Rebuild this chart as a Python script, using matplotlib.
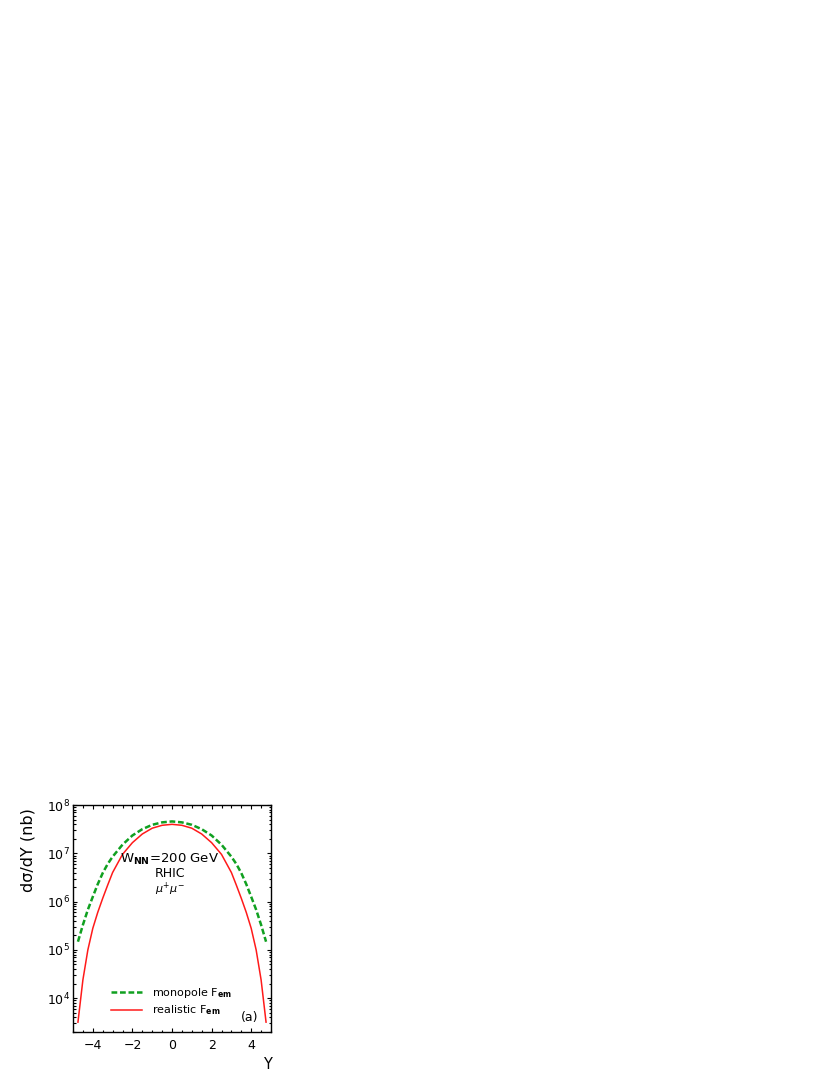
import matplotlib
matplotlib.use('Agg')
import matplotlib.pyplot as plt
from matplotlib.ticker import MultipleLocator, LogLocator, NullFormatter

# Rapidity grid and cross sections (nb)
rapidity = [-4.75, -4.5, -4.25, -4.0, -3.75, -3.5, -3.25, -3.0, -2.5, -2.0, -1.5, -1.0, -0.5,
            0.0, 0.5, 1.0, 1.5, 2.0, 2.5, 3.0, 3.25, 3.5, 3.75, 4.0, 4.25, 4.5, 4.75]
monopole = [1.48e5, 3.3e5, 6.8e5, 1.26e6, 2.3e6, 3.9e6, 6.0e6, 8.5e6, 1.51e7, 2.34e7, 3.16e7, 3.89e7, 4.37e7,
            4.57e7, 4.37e7, 3.89e7, 3.16e7, 2.34e7, 1.51e7, 8.5e6, 6.0e6, 3.9e6, 2.3e6, 1.26e6, 6.8e5, 3.3e5, 1.48e5]
realistic = [3.2e3, 2.4e4, 1.0e5, 2.8e5, 6.0e5, 1.17e6, 2.19e6, 4.0e6, 9.5e6, 1.66e7, 2.51e7, 3.31e7, 3.80e7,
             3.98e7, 3.80e7, 3.31e7, 2.51e7, 1.66e7, 9.5e6, 4.0e6, 2.19e6, 1.17e6, 6.0e5, 2.8e5, 1.0e5, 2.4e4, 3.2e3]
labels = [r'monopole F$_{\rm\bf em}$', r'realistic F$_{\rm\bf em}$']

plt.rcParams['font.family'] = ['DejaVu Sans']
plt.rcParams['mathtext.fontset'] = 'dejavusans'

fig = plt.figure(figsize=(8.3, 10.75), dpi=100)
ax = fig.add_axes([73 / 830, 43 / 1075, 198 / 830, 227 / 1075])

# Curves
ax.plot(rapidity, monopole, color='#10a020', lw=1.8, linestyle=(0, (2.3, 1.1)), label=labels[0])
ax.plot(rapidity, realistic, color='#ff1a1a', lw=1.1, label=labels[1])

# Axes ranges and scales
ax.set_yscale('log')
ax.set_xlim(-5, 5)
ax.set_ylim(2e3, 1e8)

# ROOT-like ticks: inside, on all sides
ax.xaxis.set_major_locator(MultipleLocator(2))
ax.xaxis.set_minor_locator(MultipleLocator(0.5))
ax.yaxis.set_major_locator(LogLocator(base=10, numticks=10))
ax.yaxis.set_minor_locator(LogLocator(base=10, subs=range(2, 10), numticks=100))
ax.yaxis.set_minor_formatter(NullFormatter())
ax.tick_params(which='both', direction='in', top=True, right=True, width=0.8)
ax.tick_params(which='major', length=3.2, labelsize=9)
ax.tick_params(which='minor', length=1.8)
ax.tick_params(axis='x', pad=5)
ax.tick_params(axis='y', pad=2)
for spine in ax.spines.values():
    spine.set_linewidth(1.0)

# Axis labels
ax.set_ylabel('d\u03c3/dY (nb)', fontsize=11.5)
ax.yaxis.set_label_coords(-0.19, 0.80)
ax.set_xlabel('Y', fontsize=10.5)
ax.xaxis.set_label_coords(0.98, -0.11)

# Annotations
ax.text(0.49, 0.758, r'W$_{\rm\bf NN}$=200 GeV', transform=ax.transAxes,
        ha='center', va='center', fontsize=9.5)
ax.text(0.49, 0.697, 'RHIC', transform=ax.transAxes, ha='center', va='center', fontsize=9)
ax.text(0.49, 0.628, r'$\mu^{+}\mu^{-}$', transform=ax.transAxes, ha='center', va='center', fontsize=8)
ax.text(0.894, 0.062, '(a)', transform=ax.transAxes, ha='center', va='center', fontsize=9)

# Legend
ax.legend(loc='lower left', bbox_to_anchor=(0.19, 0.065), frameon=False, fontsize=8,
          handlelength=2.8, handletextpad=0.9, labelspacing=0.3, borderpad=0, borderaxespad=0)

plt.savefig('out.png', dpi=100)
